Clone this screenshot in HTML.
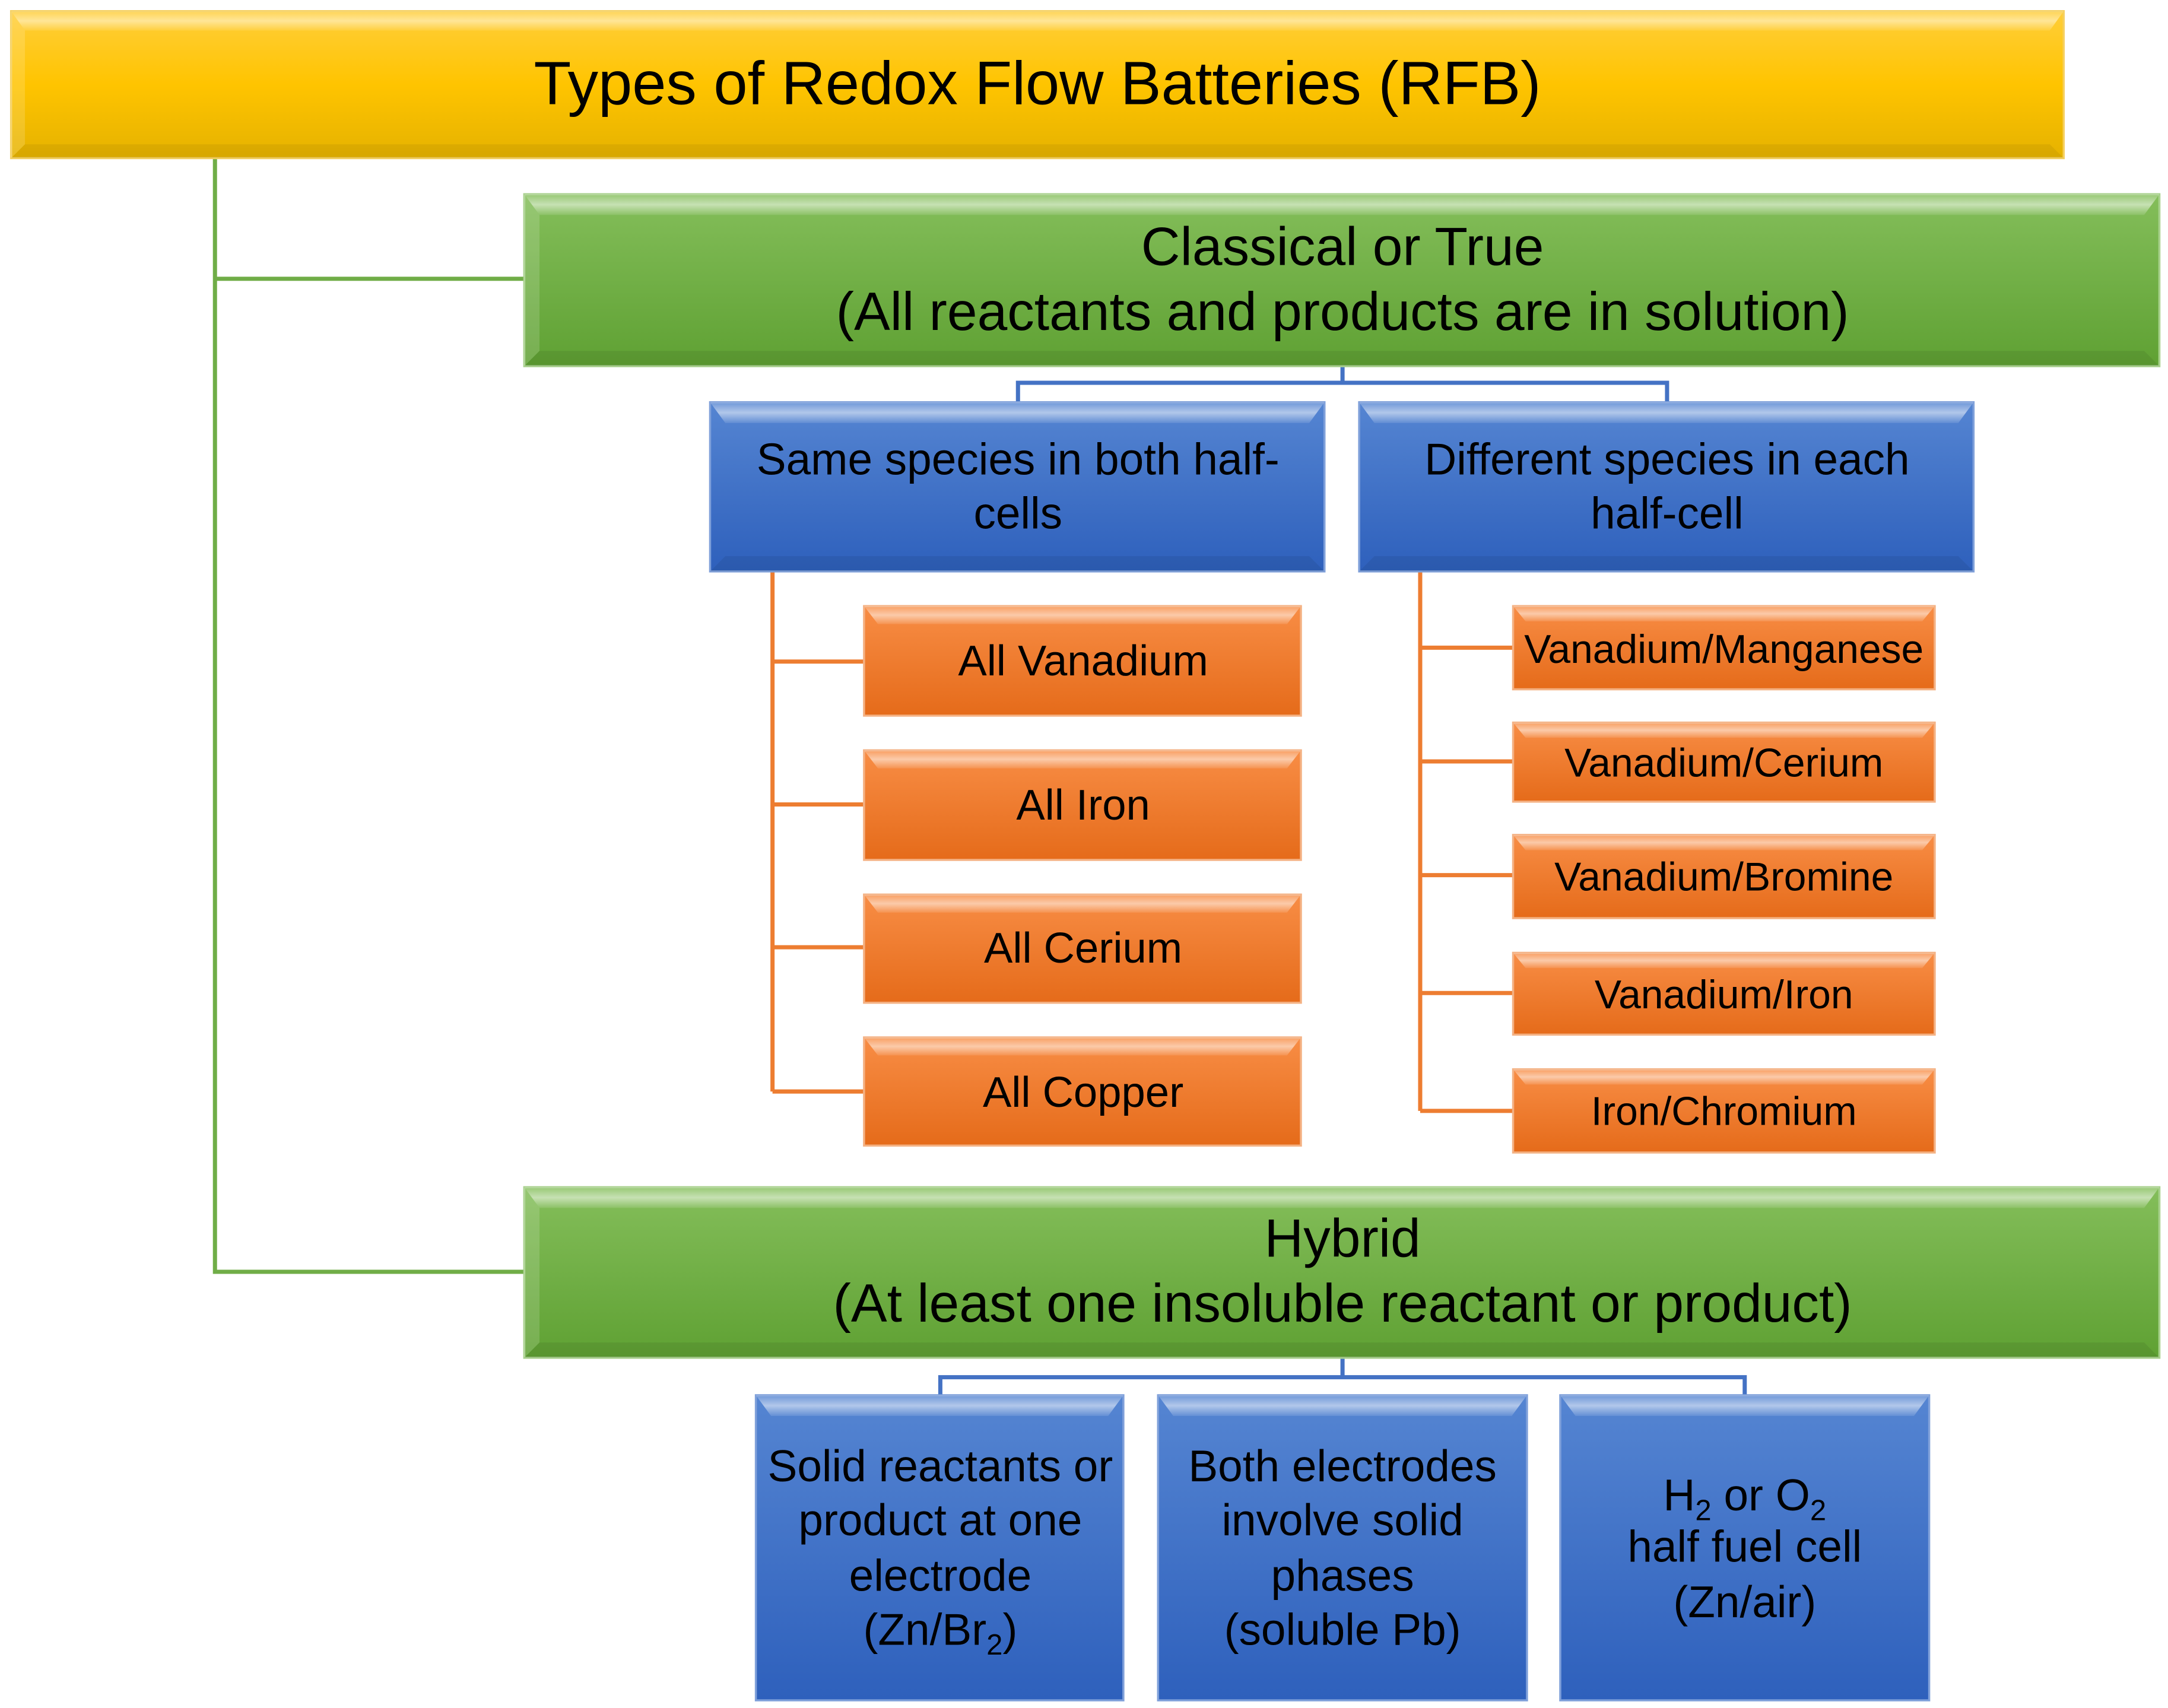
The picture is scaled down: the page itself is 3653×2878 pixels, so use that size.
<!DOCTYPE html>
<html><head><meta charset="utf-8"><style>
html,body{margin:0;padding:0;background:#fff;}
svg{display:block;}
text{font-family:"Liberation Sans",sans-serif;fill:#000;text-anchor:middle;}
</style></head><body>
<svg width="3653" height="2878" viewBox="0 0 1563.2 1231.5" xmlns="http://www.w3.org/2000/svg">
<defs>
<linearGradient id="gy" x1="0" y1="0" x2="0" y2="1"><stop offset="0" stop-color="#FFCE3A"/><stop offset="0.5" stop-color="#FFC400"/><stop offset="1" stop-color="#E5B200"/></linearGradient>
<linearGradient id="gg" x1="0" y1="0" x2="0" y2="1"><stop offset="0" stop-color="#84BE5A"/><stop offset="1" stop-color="#5FA133"/></linearGradient>
<linearGradient id="gb" x1="0" y1="0" x2="0" y2="1"><stop offset="0" stop-color="#5585D2"/><stop offset="1" stop-color="#2E60BC"/></linearGradient>
<linearGradient id="go" x1="0" y1="0" x2="0" y2="1"><stop offset="0" stop-color="#F88D45"/><stop offset="1" stop-color="#E56B1A"/></linearGradient>
<linearGradient id="hl" x1="0" y1="0" x2="0" y2="1"><stop offset="0" stop-color="#fff" stop-opacity="0.15"/><stop offset="0.5" stop-color="#fff" stop-opacity="0.55"/><stop offset="1" stop-color="#fff" stop-opacity="0.1"/></linearGradient>
</defs>

<g fill="none" stroke-width="3">
<path d="M155 114 V917 H378 M155 201 H378" stroke="#70AD47"/>
<path d="M968 264 V276 M734 290 V276 H1202 V290" stroke="#4472C4"/>
<path d="M968 979 V993 M678 1006 V993 H1258 V1006" stroke="#4472C4"/>
<path d="M557 412 V787 M557 477 H623 M557 580 H623 M557 683 H623 M557 787 H623" stroke="#ED7D31"/>
<path d="M1024 412 V801 M1024 467 H1091 M1024 549 H1091 M1024 631 H1091 M1024 716 H1091 M1024 801 H1091" stroke="#ED7D31"/>
</g>

<g>
<rect x="8" y="8" width="1480" height="106" fill="url(#gy)" stroke="#F5D060" stroke-width="1.5"/>
<polygon points="8,8 1488,8 1478,22 18,22" fill="url(#hl)" opacity="0.9"/>
<polygon points="8,114 1488,114 1478,104 18,104" fill="#000" opacity="0.06"/>
<polygon points="8,8 18,22 18,104 8,114" fill="#fff" opacity="0.15"/>
<rect x="378" y="140" width="1179" height="124" fill="url(#gg)" stroke="#A9D18E" stroke-width="1.5"/>
<polygon points="378,140 1557,140 1546,155 389,155" fill="url(#hl)"/>
<polygon points="378,264 1557,264 1546,253 389,253" fill="#000" opacity="0.07"/>
<polygon points="378,140 389,155 389,253 378,264" fill="#fff" opacity="0.15"/>
<rect x="378" y="856" width="1179" height="123" fill="url(#gg)" stroke="#A9D18E" stroke-width="1.5"/>
<polygon points="378,856 1557,856 1546,871 389,871" fill="url(#hl)"/>
<polygon points="378,979 1557,979 1546,968 389,968" fill="#000" opacity="0.07"/>
<polygon points="378,856 389,871 389,968 378,979" fill="#fff" opacity="0.15"/>
</g>

<g>
<rect x="512" y="290" width="443" height="122" fill="url(#gb)" stroke="#7FA0DA" stroke-width="1.5"/>
<polygon points="512,290 955,290 944,305 523,305" fill="url(#hl)"/>
<polygon points="512,412 955,412 944,401 523,401" fill="#000" opacity="0.07"/>
<rect x="980" y="290" width="443" height="122" fill="url(#gb)" stroke="#7FA0DA" stroke-width="1.5"/>
<polygon points="980,290 1423,290 1412,305 991,305" fill="url(#hl)"/>
<polygon points="980,412 1423,412 1412,401 991,401" fill="#000" opacity="0.07"/>

<rect x="545" y="1006" width="265" height="220" fill="url(#gb)" stroke="#7FA0DA" stroke-width="1.5"/>
<polygon points="545,1006 810,1006 799,1021 556,1021" fill="url(#hl)"/>
<rect x="835" y="1006" width="266" height="220" fill="url(#gb)" stroke="#7FA0DA" stroke-width="1.5"/>
<polygon points="835,1006 1101,1006 1090,1021 846,1021" fill="url(#hl)"/>
<rect x="1125" y="1006" width="266" height="220" fill="url(#gb)" stroke="#7FA0DA" stroke-width="1.5"/>
<polygon points="1125,1006 1391,1006 1380,1021 1136,1021" fill="url(#hl)"/>

<g stroke="#F4B183" stroke-width="1.5">
<rect x="623" y="437" width="315" height="79" fill="url(#go)"/>
<rect x="623" y="541" width="315" height="79" fill="url(#go)"/>
<rect x="623" y="645" width="315" height="78" fill="url(#go)"/>
<rect x="623" y="748" width="315" height="78" fill="url(#go)"/>
<rect x="1091" y="437" width="304" height="60" fill="url(#go)"/>
<rect x="1091" y="521" width="304" height="57" fill="url(#go)"/>
<rect x="1091" y="602" width="304" height="60" fill="url(#go)"/>
<rect x="1091" y="687" width="304" height="59" fill="url(#go)"/>
<rect x="1091" y="771" width="304" height="60" fill="url(#go)"/>
</g>
<g fill="url(#hl)">
<polygon points="623,437 938,437 928,450 633,450"/>
<polygon points="623,541 938,541 928,554 633,554"/>
<polygon points="623,645 938,645 928,658 633,658"/>
<polygon points="623,748 938,748 928,761 633,761"/>
<polygon points="1091,437 1395,437 1386,448 1100,448"/>
<polygon points="1091,521 1395,521 1386,532 1100,532"/>
<polygon points="1091,602 1395,602 1386,613 1100,613"/>
<polygon points="1091,687 1395,687 1386,698 1100,698"/>
<polygon points="1091,771 1395,771 1386,782 1100,782"/>
</g>
</g>

<text x="748" y="75" font-size="44">Types of Redox Flow Batteries (RFB)</text>
<text x="968" y="191" font-size="39">Classical or True</text>
<text x="968" y="238" font-size="39">(All reactants and products are in solution)</text>
<text x="968" y="906" font-size="39">Hybrid</text>
<text x="968" y="953" font-size="39">(At least one insoluble reactant or product)</text>

<g font-size="32">
<text x="734" y="342">Same species in both half-</text>
<text x="734" y="381">cells</text>
<text x="1202" y="342">Different species in each</text>
<text x="1202" y="381">half-cell</text>
</g>
<g font-size="31">
<text x="781" y="487">All Vanadium</text>
<text x="781" y="591">All Iron</text>
<text x="781" y="694">All Cerium</text>
<text x="781" y="798">All Copper</text>
</g>
<g font-size="29">
<text x="1243" y="478">Vanadium/Manganese</text>
<text x="1243" y="560">Vanadium/Cerium</text>
<text x="1243" y="642">Vanadium/Bromine</text>
<text x="1243" y="727">Vanadium/Iron</text>
<text x="1243" y="811">Iron/Chromium</text>
</g>
<g font-size="32">
<text x="678" y="1068">Solid reactants or</text>
<text x="678" y="1107">product at one</text>
<text x="678" y="1147">electrode</text>
<text x="678" y="1186">(Zn/Br<tspan font-size="21" dy="7">2</tspan><tspan dy="-7">)</tspan></text>
<text x="968" y="1068">Both electrodes</text>
<text x="968" y="1107">involve solid</text>
<text x="968" y="1147">phases</text>
<text x="968" y="1186">(soluble Pb)</text>
<text x="1258" y="1089">H<tspan font-size="21" dy="7">2</tspan><tspan dy="-7"> or O</tspan><tspan font-size="21" dy="7">2</tspan></text>
<text x="1258" y="1126">half fuel cell</text>
<text x="1258" y="1166">(Zn/air)</text>
</g>
</svg>
</body></html>
